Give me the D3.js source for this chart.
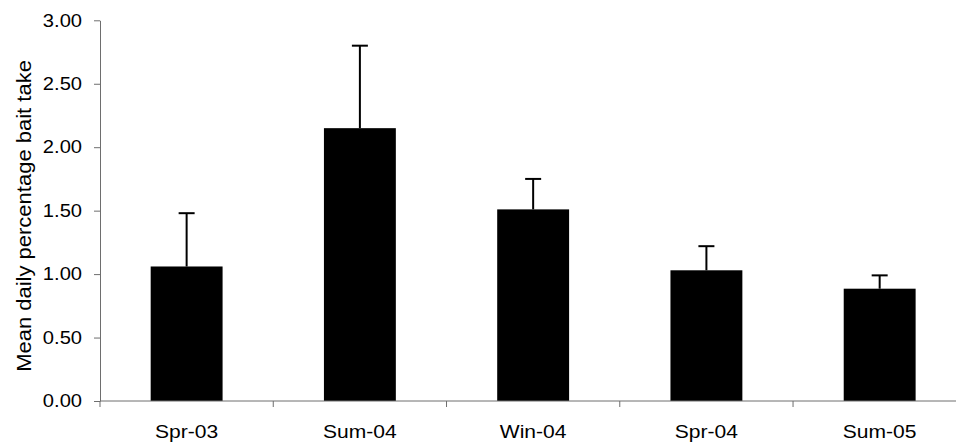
<!DOCTYPE html>
<html>
<head>
<meta charset="utf-8">
<script src="https://cdn.jsdelivr.net/npm/d3@7"></script>
<style>
  html, body { margin: 0; padding: 0; background: #fff; }
  svg { display: block; font-family: "Liberation Sans", Arial, sans-serif; }
</style>
</head>
<body>
<svg id="chart" width="956" height="446"></svg>
<script>
// Seasonal bait take: mean daily percentage with upper error bars
const seasons = ["Spr-03", "Sum-04", "Win-04", "Spr-04", "Sum-05"];
const meanTake = [1.06, 2.15, 1.51, 1.03, 0.885];
const errorUp = [0.42, 0.65, 0.24, 0.19, 0.105];
const yTicks = [0, 0.5, 1, 1.5, 2, 2.5, 3];
const yTitle = "Mean daily percentage bait take";

(function draw() {
  const svg = d3.select("#chart");
  const plotLeft = 100, plotTop = 20.3, plotBottom = 401;
  const step = 173.26;
  const plotRight = plotLeft + step * seasons.length;

  const x = d3.scaleBand()
    .domain(seasons)
    .range([plotLeft, plotRight])
    .paddingInner(0.585)
    .paddingOuter(0.2925);

  const y = d3.scaleLinear().domain([0, 3]).range([plotBottom, plotTop]);

  const axisColor = "#6e6e6e";

  // bars
  svg.append("g").selectAll("rect")
    .data(seasons)
    .join("rect")
    .attr("x", d => x(d))
    .attr("y", (d, i) => y(meanTake[i]))
    .attr("width", x.bandwidth())
    .attr("height", (d, i) => y(0) - y(meanTake[i]))
    .attr("fill", "#000");

  // error bars
  const eb = svg.append("g").attr("stroke", "#000").attr("stroke-width", 2);
  seasons.forEach((s, i) => {
    const cx = x(s) + x.bandwidth() / 2;
    const yEnd = y(meanTake[i] + errorUp[i]);
    eb.append("line").attr("x1", cx).attr("x2", cx)
      .attr("y1", y(meanTake[i])).attr("y2", yEnd);
    eb.append("line").attr("x1", cx - 8).attr("x2", cx + 8)
      .attr("y1", yEnd).attr("y2", yEnd);
  });

  // y axis
  const yAxis = svg.append("g")
    .attr("transform", `translate(${plotLeft},0)`)
    .call(d3.axisLeft(y).tickValues(yTicks).tickFormat(d3.format(".2f"))
      .tickSize(6).tickPadding(10).tickSizeOuter(0));
  yAxis.select(".domain").attr("stroke", axisColor);
  yAxis.selectAll(".tick line").attr("stroke", axisColor);
  yAxis.selectAll(".tick text")
    .attr("font-size", 18).attr("fill", "#000")
    .attr("font-family", "Liberation Sans, Arial, sans-serif")
    .attr("transform", "scale(1.12,1)");

  // x axis: ticks sit on category boundaries, labels centred under bars
  const xAxisG = svg.append("g").attr("transform", `translate(0,${plotBottom})`);
  xAxisG.append("line").attr("x1", plotLeft).attr("x2", plotRight)
    .attr("stroke", axisColor);
  xAxisG.selectAll("line.tk")
    .data(d3.range(seasons.length + 1))
    .join("line").attr("class", "tk")
    .attr("x1", i => plotLeft + i * step).attr("x2", i => plotLeft + i * step)
    .attr("y1", 0).attr("y2", 6).attr("stroke", axisColor);
  xAxisG.selectAll("text")
    .data(seasons)
    .join("text")
    .attr("transform", d => `translate(${x(d) + x.bandwidth() / 2},37) scale(1.17,1)`)
    .attr("text-anchor", "middle")
    .attr("font-size", 18)
    .attr("fill", "#000")
    .text(d => d);

  // y axis title
  svg.append("text")
    .attr("transform", `translate(31,216) rotate(-90) scale(1.1,1)`)
    .attr("text-anchor", "middle")
    .attr("font-size", 20)
    .attr("fill", "#000")
    .text(yTitle);
})();
</script>
</body>
</html>
